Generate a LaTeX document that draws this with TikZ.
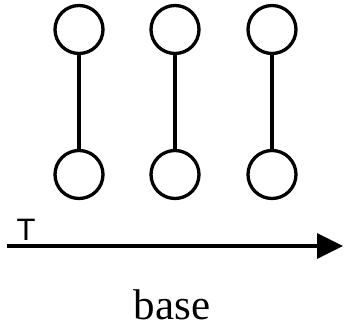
\documentclass[tikz,border=0pt]{standalone}
\usepackage{fontspec}
\setmainfont{Liberation Serif}
\newfontfamily\tfont{Liberation Sans}
\usetikzlibrary{arrows.meta}
\tikzset{
	ball/.style={draw,circle,line width=3.3pt,minimum size=48pt,inner sep=0pt},
	rod/.style={line width=3.3pt},
}
\begin{document}
\begin{tikzpicture}[x=1pt,y=-1pt]
		\useasboundingbox(0,0)rectangle(346,325);
		\node[ball](t1)at(79,29.5){};
		\node[ball](t2)at(175,29.5){};
		\node[ball](t3)at(272,29.5){};
		\node[ball](b1)at(79,174.5){};
		\node[ball](b2)at(175,174.5){};
		\node[ball](b3)at(272,174.5){};
		\draw[rod](t1)--(b1);
		\draw[rod](t2)--(b2);
		\draw[rod](t3)--(b3);
		\coordinate(start)at(7,246);
		\coordinate(stop)at(343,246);
		\draw[rod,-{Triangle[length=26pt,width=25pt]}](start)--(stop);
		\node[anchor=base,inner sep=0pt](T)at(26,240.5){\fontsize{31}{36}\selectfont\tfont T};
		\node[anchor=base,inner sep=0pt](base)at(172,319.5){\fontsize{43}{48}\selectfont base};
\end{tikzpicture}
\end{document}
